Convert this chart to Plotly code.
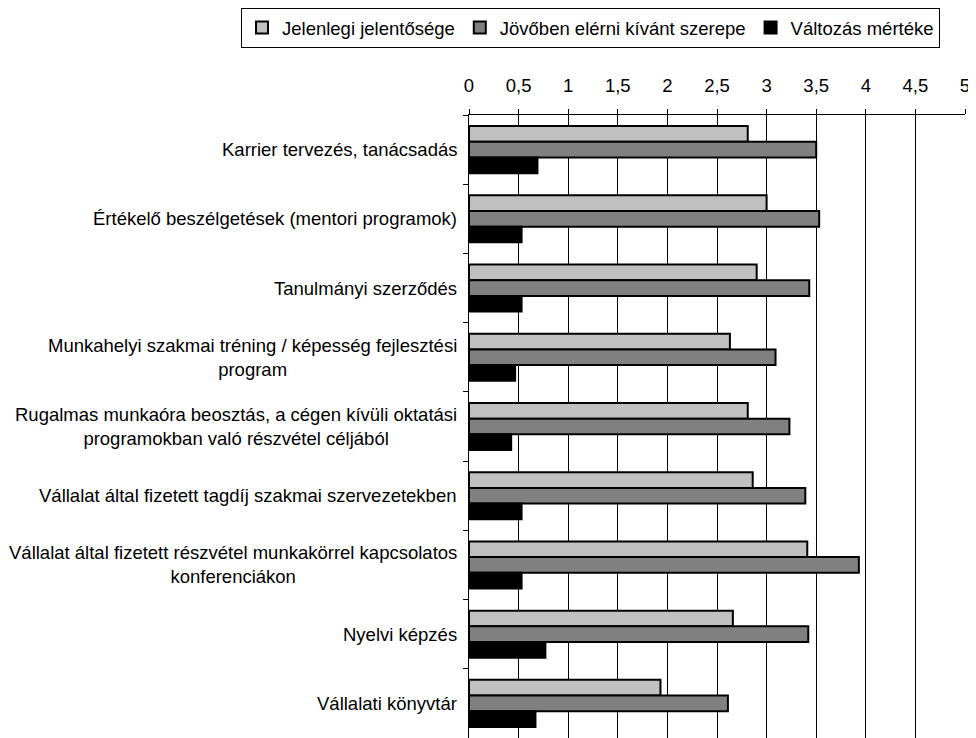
import plotly.graph_objects as go

categories = [
    "Karrier tervezés, tanácsadás",
    "Értékelő beszélgetések (mentori programok)",
    "Tanulmányi szerződés",
    "Munkahelyi szakmai tréning / képesség fejlesztési<br>program",
    "Rugalmas munkaóra beosztás, a cégen kívüli oktatási<br>programokban való részvétel céljából",
    "Vállalat által fizetett tagdíj szakmai szervezetekben",
    "Vállalat által fizetett részvétel munkakörrel kapcsolatos<br>konferenciákon",
    "Nyelvi képzés",
    "Vállalati könyvtár",
]
series_names = ["Jelenlegi jelentősége", "Jövőben elérni kívánt szerepe", "Változás mértéke"]
jelenlegi = [2.81, 3.00, 2.90, 2.63, 2.81, 2.86, 3.41, 2.66, 1.93]
jovoben = [3.50, 3.53, 3.43, 3.09, 3.23, 3.39, 3.93, 3.42, 2.61]
valtozas = [0.69, 0.53, 0.53, 0.465, 0.425, 0.53, 0.53, 0.77, 0.67]
colors = ["#C0C0C0", "#808080", "#000000"]

FONT = "Liberation Sans, Arial, sans-serif"
FS = 18.5

fig = go.Figure()
for name, vals, col in zip(series_names, [jelenlegi, jovoben, valtozas], colors):
    fig.add_trace(go.Bar(
        y=categories, x=vals, name=name, orientation="h",
        marker=dict(color=col, line=dict(color="#000000", width=2)),
    ))

for cat in categories:
    fig.add_annotation(
        x=0, xref="paper", xanchor="right", xshift=-10,
        y=cat, yref="y", yanchor="middle",
        text=cat, showarrow=False, align="center",
        font=dict(family=FONT, size=FS, color="#000000"),
    )

fig.update_layout(
    width=968, height=730,
    margin=dict(l=461, r=11, t=107, b=0, autoexpand=False),
    paper_bgcolor="white", plot_bgcolor="white",
    barmode="group", bargap=0.32, bargroupgap=0,
    separators=", ",
    font=dict(family=FONT, size=FS, color="#000000"),
    showlegend=True,
    legend=dict(
        orientation="h",
        x=-0.4597, xanchor="left", y=1.1717, yanchor="top",
        bordercolor="#000000", borderwidth=1, bgcolor="white",
        font=dict(family=FONT, size=FS), traceorder="normal",
        itemwidth=30, tracegroupgap=0,
    ),
    xaxis=dict(
        side="top", range=[0, 5], dtick=0.5, tick0=0,
        showgrid=True, gridcolor="#000000", gridwidth=1,
        showline=True, linecolor="#000000", linewidth=1,
        ticks="outside", ticklen=5, tickcolor="#000000",
        ticklabelstandoff=10,
        zeroline=False, tickfont=dict(family=FONT, size=FS),
    ),
    yaxis=dict(
        autorange="reversed", showticklabels=False,
        showline=True, linecolor="#000000", linewidth=1,
        ticks="outside", ticklen=5, tickcolor="#000000", tickson="boundaries",
        showgrid=False, zeroline=False,
    ),
)

fig.write_html("out.html")
